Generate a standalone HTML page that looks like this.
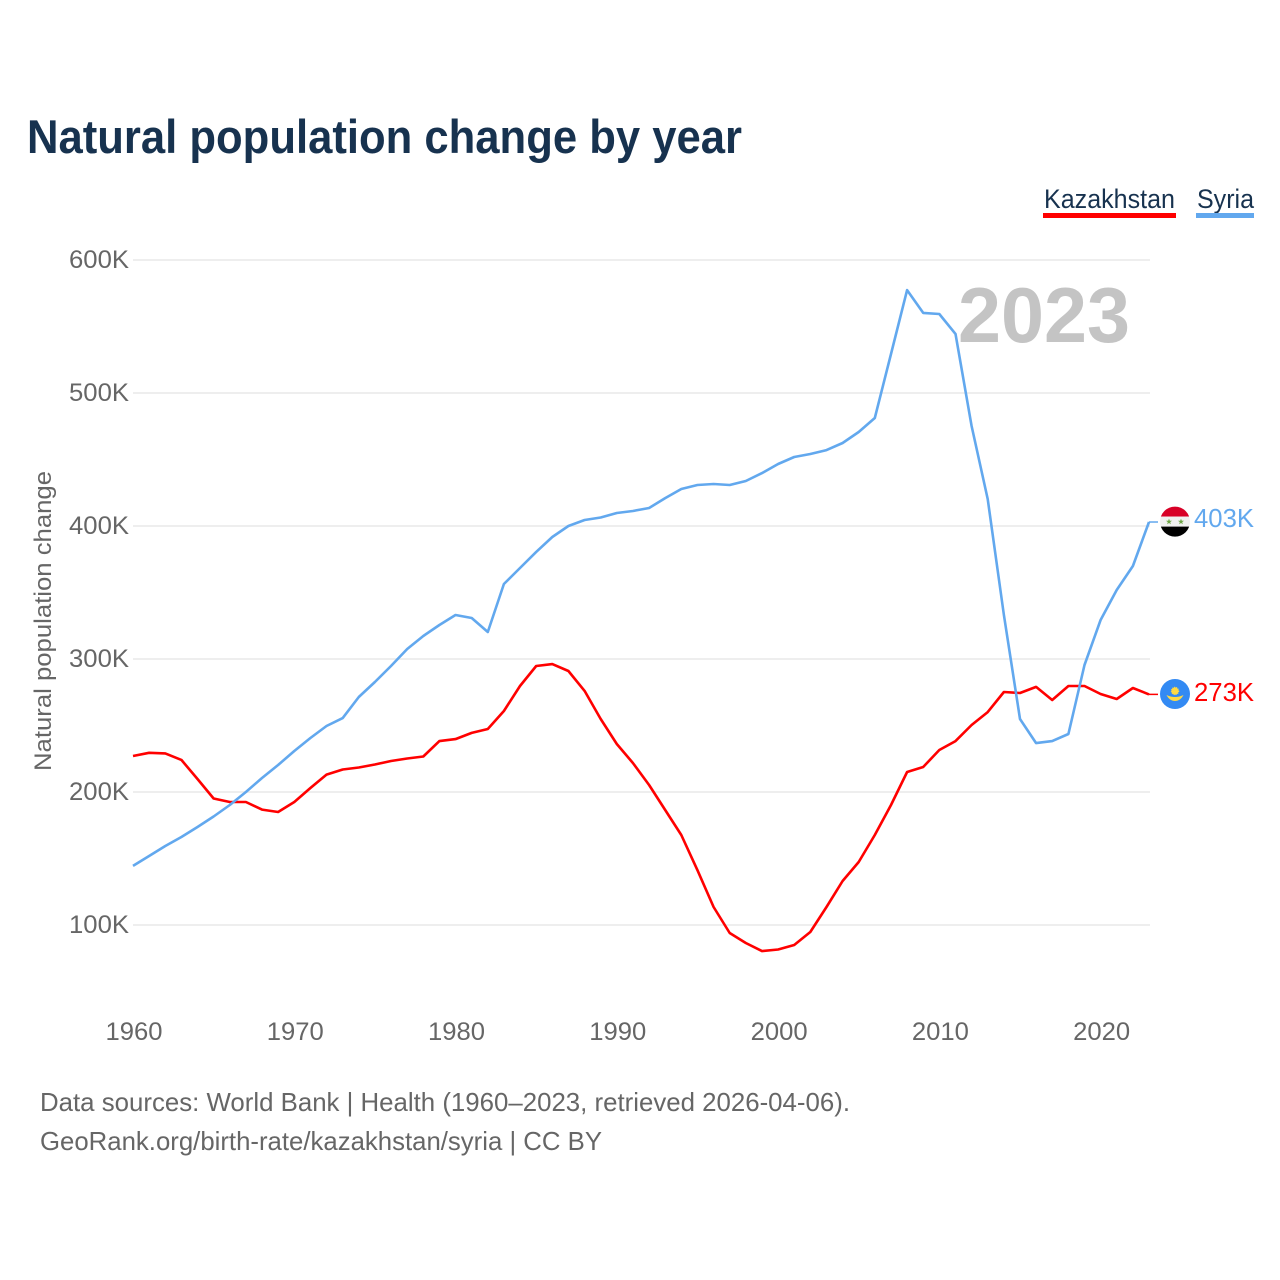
<!DOCTYPE html>
<html lang="en">
<head>
<meta charset="utf-8">
<title>Natural population change by year</title>
<style>
html,body{margin:0;padding:0;background:#fff;}
svg{display:block;font-family:"Liberation Sans",Arial,sans-serif;}
</style>
</head>
<body>
<svg id="chart" width="1280" height="1280" viewBox="0 0 1280 1280" xmlns="http://www.w3.org/2000/svg">
  <rect x="0" y="0" width="1280" height="1280" fill="#ffffff"/>
  <text x="27" y="153" font-size="47" font-weight="700" fill="#17324f" textLength="715" lengthAdjust="spacingAndGlyphs">Natural population change by year</text>

  <g>
    <g>
      <text x="1044" y="208" font-size="27" fill="#17324f" textLength="131" lengthAdjust="spacingAndGlyphs">Kazakhstan</text>
      <rect x="1043" y="213" width="133" height="5" fill="#ff0000"/>
    </g>
    <g>
      <text x="1197" y="208" font-size="27" fill="#17324f" textLength="57" lengthAdjust="spacingAndGlyphs">Syria</text>
      <rect x="1196" y="213" width="58" height="5" fill="#62a8ee"/>
    </g>
  </g>

  <g id="grid"></g>
  <g id="y-ticks"></g>
  <g id="x-ticks"></g>

  <text transform="translate(51 621) rotate(-90)" text-anchor="middle" font-size="24" fill="#666666" textLength="300" lengthAdjust="spacingAndGlyphs">Natural population change</text>

  <text x="958" y="342" font-size="78" font-weight="700" fill="#c4c4c4" textLength="172" lengthAdjust="spacingAndGlyphs">2023</text>

  <g id="series"></g>

  <g id="flag-syria">
    <clipPath id="clip-syria"><circle cx="1175" cy="521.5" r="15"/></clipPath>
    <g clip-path="url(#clip-syria)">
      <rect x="1160" y="506" width="30" height="10.5" fill="#d80027"/>
      <rect x="1160" y="516.5" width="30" height="10" fill="#f0f0f0"/>
      <rect x="1160" y="526.5" width="30" height="11" fill="#000000"/>
      <polygon points="1169,518.5 1169.8,520.7 1172,520.7 1170.2,522 1170.9,524.2 1169,522.9 1167.1,524.2 1167.8,522 1166,520.7 1168.2,520.7" fill="#6da544"/>
      <polygon points="1181,518.5 1181.8,520.7 1184,520.7 1182.2,522 1182.9,524.2 1181,522.9 1179.1,524.2 1179.8,522 1178,520.7 1180.2,520.7" fill="#6da544"/>
    </g>
  </g>
  <g id="flag-kazakhstan">
    <circle cx="1175" cy="694" r="15" fill="#338af3"/>
    <circle cx="1175" cy="691" r="3.6" fill="#ffda44" stroke="#ffda44" stroke-width="1.2" stroke-dasharray="1 1"/>
    <path d="M1166.5 695 C1170 696.5 1172 697 1175 697 C1178 697 1180 696.5 1183.5 695 C1181.5 699 1178.5 701 1175 701 C1171.5 701 1168.5 699 1166.5 695 Z" fill="#ffda44"/>
  </g>

  <text x="1194" y="527" font-size="26" fill="#62a8ee" textLength="60" lengthAdjust="spacingAndGlyphs" id="end-label-syria"></text>
  <text x="1194" y="701" font-size="26" fill="#ff0000" textLength="60" lengthAdjust="spacingAndGlyphs" id="end-label-kazakhstan"></text>

  <text x="40" y="1111" font-size="26" fill="#666666" textLength="810" lengthAdjust="spacingAndGlyphs">Data sources: World Bank | Health (1960–2023, retrieved 2026-04-06).</text>
  <text x="40" y="1150" font-size="26" fill="#666666" textLength="562" lengthAdjust="spacingAndGlyphs">GeoRank.org/birth-rate/kazakhstan/syria | CC BY</text>
</svg>

<script>
const startYear = 1960;
const kazakhstanValues = [
  227.1,229.5,229,224.1,209.8,195.1,192.5,192.5,186.8,185,
  192.5,203,213.1,216.9,218.4,220.7,223.3,225.2,226.7,238.3,
  239.8,244.4,247.4,260.9,279.7,294.7,296.2,291,276,254.9,
  236.1,221.8,205.3,186.5,167.7,141.3,113.5,94,86.5,80.4,
  81.6,85,94.7,113.5,133.1,147.4,167.7,190.2,215,218.8,
  231.6,238.3,250.4,260.1,275.2,274.4,279,269.2,279.7,279.7,
  273.7,269.9,278.2,273.4
];
const syriaValues = [
  144.4,151.9,159.4,166.2,173.7,181.6,190.2,200,210.5,220.3,
  230.8,240.6,249.6,255.6,271.4,282.7,294.7,307.5,317.3,325.6,
  333.1,330.8,320.3,356.4,368.4,380.5,391.7,400,404.5,406.4,
  409.8,411.3,413.5,421,427.8,430.8,431.6,430.8,433.8,439.8,
  446.6,451.9,454.1,457.1,462.4,470.7,481.2,529.3,577.4,560.2,
  559.4,544.4,475.2,420.3,333.1,254.9,236.8,238.3,243.6,295.5,
  329.3,351.9,369.9,403
];
const yTicks = [100, 200, 300, 400, 500, 600];
const xTicks = [1960, 1970, 1980, 1990, 2000, 2010, 2020];

const SVG_NS = 'http://www.w3.org/2000/svg';
function xScale(year) { return 133 + (year - 1960) * (1149 - 133) / 63; }
function yScale(value) { return 925 - (value - 100) * 1.33; }
function make(tag, attrs, parent) {
  const el = document.createElementNS(SVG_NS, tag);
  for (const k in attrs) el.setAttribute(k, attrs[k]);
  parent.appendChild(el);
  return el;
}

const gridGroup = document.getElementById('grid');
const yTickGroup = document.getElementById('y-ticks');
yTicks.forEach(function (v) {
  const line = make('line', {x1: 133, x2: 1150, y1: yScale(v), y2: yScale(v), stroke: '#eeeeee', 'stroke-width': 2}, gridGroup);
  
  
  const label = make('text', {x: 129, y: yScale(v) + 8, 'text-anchor': 'end', 'font-size': 25, fill: '#666666', textLength: 60, lengthAdjust: 'spacingAndGlyphs'}, yTickGroup);
  
  
  label.textContent = v + 'K';
});

const xTickGroup = document.getElementById('x-ticks');
xTicks.forEach(function (year) {
  const label = make('text', {x: xScale(year) + 1, y: 1040, 'text-anchor': 'middle', 'font-size': 25, fill: '#666666', textLength: 57, lengthAdjust: 'spacingAndGlyphs'}, xTickGroup);
  
  
  label.textContent = String(year);
});

function linePoints(values) {
  return values.map(function (v, i) { return xScale(startYear + i).toFixed(1) + ',' + yScale(v).toFixed(1); }).join(' ');
}
const seriesGroup = document.getElementById('series');

const kazLine = make('polyline', {points: linePoints(kazakhstanValues), fill: 'none', stroke: '#ff0000', 'stroke-width': 2.6, 'stroke-linejoin': 'round'}, seriesGroup);



const syriaLine = make('polyline', {points: linePoints(syriaValues), fill: 'none', stroke: '#62a8ee', 'stroke-width': 2.6, 'stroke-linejoin': 'round'}, seriesGroup);



const lastYear = startYear + syriaValues.length - 1;
const lastKaz = kazakhstanValues[kazakhstanValues.length - 1];
const lastSyria = syriaValues[syriaValues.length - 1];

const kazStub = make('line', {x1: xScale(lastYear), x2: 1158, y1: yScale(lastKaz), y2: yScale(lastKaz), stroke: '#ff0000', 'stroke-width': 1.5}, seriesGroup);



const syriaStub = make('line', {x1: xScale(lastYear), x2: 1158, y1: yScale(lastSyria), y2: yScale(lastSyria), stroke: '#62a8ee', 'stroke-width': 1.5}, seriesGroup);



function placeEnd(flagId, labelId, value, flagBaseY, labelBaseY) {
  const dy = yScale(value) - flagBaseY;
  document.getElementById(flagId).setAttribute('transform', 'translate(0 ' + dy.toFixed(1) + ')');
  const label = document.getElementById(labelId);
  label.setAttribute('y', (labelBaseY + dy).toFixed(1));
  label.textContent = Math.round(value) + 'K';
}
placeEnd('flag-syria', 'end-label-syria', lastSyria, 521.9, 527);
placeEnd('flag-kazakhstan', 'end-label-kazakhstan', lastKaz, 694.4, 701);
</script>
</body>
</html>
